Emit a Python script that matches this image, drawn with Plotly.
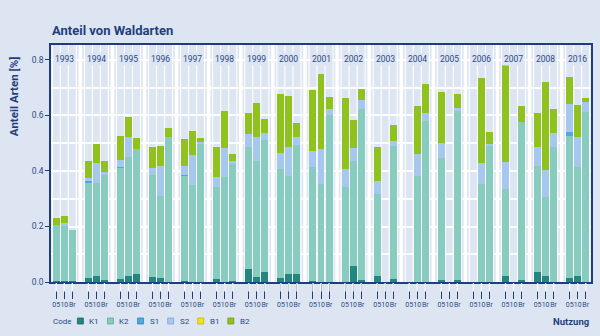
import plotly.graph_objects as go

# Aufnahmejahre und Nutzungstypen je Jahr
years = ["1993", "1994", "1995", "1996", "1997", "1998", "1999", "2000", "2001",
         "2002", "2003", "2004", "2005", "2006", "2007", "2008", "2016"]
uses = ["05", "10", "Br"]

# Anteil der Arten je Code; pro Jahr die Werte fuer [05, 10, Br], None = keine Aufnahme
k1 = [
    [0.004, 0.005, 0.002], [0.013, 0.022, 0.007], [0.011, 0.022, 0.030],
    [0.017, 0.014, 0.0], [0.005, 0.0, 0.0], [0.010, 0.0, 0.005],
    [0.046, 0.017, 0.036], [0.014, 0.028, 0.028], [0.003, 0.0, 0.0],
    [0.0, 0.059, 0.007], [0.022, None, 0.011], [None, 0.0, 0.0],
    [0.007, None, 0.007], [None, 0.0, 0.0], [0.023, None, 0.007],
    [0.036, 0.022, 0.0], [0.016, 0.023, 0.0],
]
k2 = [
    [0.201, 0.197, 0.185], [0.345, 0.334, 0.380], [0.400, 0.427, 0.450],
    [0.370, 0.297, 0.523], [0.377, 0.350, 0.500], [0.332, 0.378, 0.419],
    [0.442, 0.419, 0.476], [0.394, 0.354, 0.466], [0.413, 0.354, 0.603],
    [0.342, 0.377, 0.618], [0.296, None, 0.480], [None, 0.382, 0.580],
    [0.439, None, 0.610], [None, 0.353, 0.493], [0.312, None, 0.570],
    [0.383, 0.283, 0.486], [0.510, 0.390, 0.611],
]
s1 = [
    [0.0, 0.0, 0.0], [0.005, 0.0, 0.0], [0.005, 0.0, 0.0],
    [0.0, 0.0, 0.0], [0.005, 0.0, 0.0], [0.0, 0.0, 0.0],
    [0.0, 0.0, 0.0], [0.0, 0.0, 0.0], [0.0, 0.0, 0.0],
    [0.0, 0.0, 0.0], [0.0, None, 0.0], [None, 0.0, 0.0],
    [0.0, None, 0.0], [None, 0.0, 0.0], [0.0, None, 0.0],
    [0.0, 0.0, 0.0], [0.013, 0.0, 0.0],
]
s2 = [
    [0.0, 0.012, 0.0], [0.013, 0.074, 0.009], [0.024, 0.074, 0.0],
    [0.024, 0.107, 0.0], [0.032, 0.108, 0.003], [0.035, 0.106, 0.012],
    [0.045, 0.088, 0.025], [0.058, 0.104, 0.027], [0.056, 0.125, 0.022],
    [0.064, 0.048, 0.031], [0.047, None, 0.017], [None, 0.080, 0.028],
    [0.056, None, 0.009], [None, 0.077, 0.006], [0.099, None, 0.0],
    [0.069, 0.097, 0.051], [0.102, 0.108, 0.038],
]
b1 = [
    [0.0, 0.0, 0.0], [0.0, 0.0, 0.0], [0.0, 0.0, 0.0],
    [0.0, 0.0, 0.0], [0.0, 0.0, 0.0], [0.0, 0.0, 0.0],
    [0.0, 0.0, 0.0], [0.0, 0.0, 0.0], [0.0, 0.0, 0.0],
    [0.0, 0.0, 0.0], [0.0, None, 0.0], [None, 0.0, 0.0],
    [0.0, None, 0.0], [None, 0.0, 0.0], [0.0, None, 0.0],
    [0.0, 0.0, 0.0], [0.0, 0.0, 0.0],
]
b2 = [
    [0.026, 0.025, 0.0], [0.060, 0.067, 0.040], [0.086, 0.070, 0.039],
    [0.077, 0.072, 0.032], [0.096, 0.086, 0.015], [0.109, 0.133, 0.024],
    [0.077, 0.121, 0.052], [0.213, 0.185, 0.053], [0.221, 0.269, 0.042],
    [0.258, 0.101, 0.038], [0.123, None, 0.059], [None, 0.173, 0.106],
    [0.181, None, 0.053], [None, 0.304, 0.041], [0.348, None, 0.057],
    [0.121, 0.320, 0.085], [0.099, 0.117, 0.014],
]

codes = ["K1", "K2", "S1", "S2", "B1", "B2"]
series = [k1, k2, s1, s2, b1, b2]
fills = ["#22877f", "#88cbbf", "#4ea9e0", "#a7c8ee", "#f4e11c", "#8fc21f"]
edges = ["#176a63", "#5fa99c", "#2e86c0", "#7fa6d6", "#c9b700", "#6c9a12"]

BG = "#dce5f1"
NAVY = "#1f3f7c"
TXT = "#2b4b88"
FONT = "Roboto"

# Plot-Geometrie in Pixeln
W, H = 600, 336
L, R, T, B = 51, 7, 45, 54
PW, PH = W - L - R, H - T - B

SLOT = 4  # drei Balken + eine Luecke je Jahr
xpos = [SLOT * g + u for g in range(len(years)) for u in range(len(uses))]
xtext = [u for _ in years for u in uses]

fig = go.Figure()
for code, vals, col in zip(codes, series, fills):
    flat = [v for grp in vals for v in grp]
    fig.add_trace(go.Bar(
        x=xpos, y=flat, name=code, marker_color=col,
        marker_line_width=0, width=0.87, showlegend=False,
    ))

def px_x(p):
    return (p - L) / PW

def px_y(p):
    return (H - B - p) / PH

shapes = []
# schmale Rasterlinien an den Balkengrenzen
for g in range(len(years)):
    for u in range(4):
        xb = SLOT * g + u - 0.5
        shapes.append(dict(type="line", xref="x", yref="paper", x0=xb, x1=xb,
                           y0=0, y1=1, line=dict(color="white", width=1.1),
                           layer="below"))
# breite Trennlinien zwischen den Jahren
for g in range(len(years) - 1):
    xs = SLOT * g + 3
    shapes.append(dict(type="line", xref="x", yref="paper", x0=xs, x1=xs,
                       y0=0, y1=1, line=dict(color="white", width=3.5),
                       layer="below"))
# helle Anteile der Teilstriche unter der Achse
for xv in xpos:
    shapes.append(dict(type="line", xref="x", yref="paper", x0=xv, x1=xv,
                       y0=px_y(283), y1=px_y(291.5),
                       line=dict(color="white", width=1.3), layer="above"))

annotations = []
# Jahresbeschriftung oben im Diagramm
for g, yr in enumerate(years):
    annotations.append(dict(x=SLOT * g + 1, y=px_y(51.5), xref="x", yref="paper",
                            text=yr, showarrow=False, bgcolor=BG, borderpad=1,
                            font=dict(family=FONT, size=8.5, color=TXT)))
annotations.append(dict(x=px_x(50), y=px_y(30.5), xref="paper", yref="paper",
                        xanchor="left", yanchor="middle", showarrow=False,
                        text="<b>Anteil von Waldarten</b>",
                        font=dict(family=FONT, size=13, color=NAVY)))
annotations.append(dict(x=px_x(14), y=px_y(96), xref="paper", yref="paper",
                        xanchor="center", yanchor="middle", textangle=-90,
                        showarrow=False, text="<b>Anteil Arten [%]</b>",
                        font=dict(family=FONT, size=11.5, color=NAVY)))
# Legende
ly = 321
annotations.append(dict(x=px_x(51), y=px_y(ly), xref="paper", yref="paper",
                        xanchor="left", yanchor="middle", showarrow=False,
                        text="Code", font=dict(family=FONT, size=8, color=TXT)))
for i, (code, col, ec) in enumerate(zip(codes, fills, edges)):
    cx = 80.5 + 30.2 * i
    shapes.append(dict(type="rect", xref="paper", yref="paper",
                       x0=px_x(cx - 3), x1=px_x(cx + 3),
                       y0=px_y(ly + 3), y1=px_y(ly - 3),
                       fillcolor=col, line=dict(color=ec, width=0.8)))
    annotations.append(dict(x=px_x(cx + 7), y=px_y(ly), xref="paper", yref="paper",
                            xanchor="left", yanchor="middle", showarrow=False,
                            text=code, font=dict(family=FONT, size=8, color=TXT)))
annotations.append(dict(x=px_x(593), y=px_y(ly), xref="paper", yref="paper",
                        xanchor="right", yanchor="middle", showarrow=False,
                        text="<b>Nutzung</b>",
                        font=dict(family=FONT, size=9.5, color=NAVY)))

fig.update_layout(
    width=W, height=H, barmode="stack",
    margin=dict(l=L, r=R, t=T, b=B, pad=0),
    paper_bgcolor=BG, plot_bgcolor=BG,
    font=dict(family=FONT, color=TXT),
    shapes=shapes, annotations=annotations, bargap=0,
    xaxis=dict(
        range=[-0.66, 66.66], tickmode="array", tickvals=xpos, ticktext=xtext,
        tickangle=0, ticks="outside", ticklen=15, tickwidth=1.2, tickcolor=NAVY,
        tickfont=dict(family=FONT, size=7, color=TXT),
        showgrid=False, zeroline=False,
        showline=True, linecolor=NAVY, linewidth=1.5, mirror=True,
        fixedrange=True,
    ),
    yaxis=dict(
        range=[0, 0.854], tickmode="array", tickvals=[0, 0.2, 0.4, 0.6, 0.8],
        ticktext=["0.0", "0.2", "0.4", "0.6", "0.8"],
        ticks="outside", ticklen=4, tickwidth=1.3, tickcolor=NAVY,
        tickfont=dict(family=FONT, size=8.5, color=TXT),
        showgrid=True, gridcolor="white", gridwidth=1.5, zeroline=False,
        showline=True, linecolor=NAVY, linewidth=1.5, mirror=True,
        minor=dict(tickmode="array", tickvals=[0.1, 0.3, 0.5, 0.7],
                   showgrid=True, gridcolor="white", gridwidth=1.5, ticks=""),
        fixedrange=True,
    ),
)

fig.write_html("out.html")
